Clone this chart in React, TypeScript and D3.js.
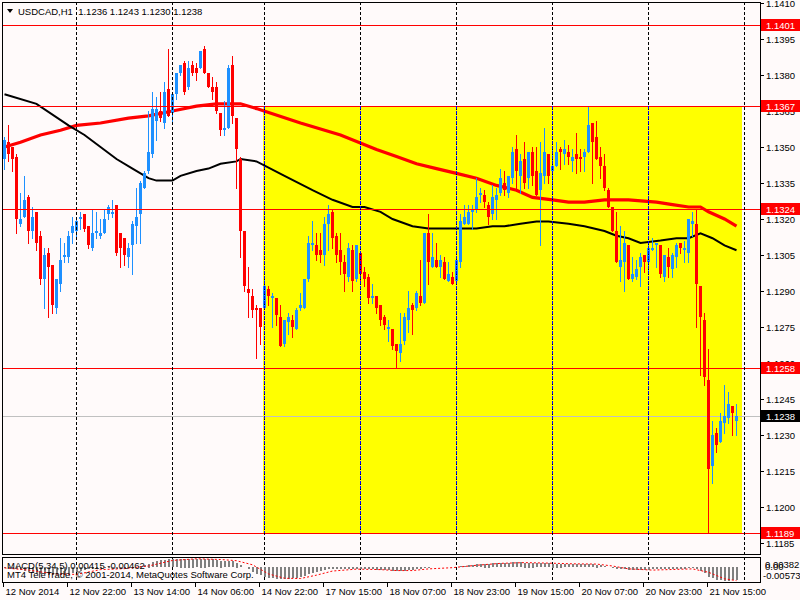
import React, { useRef, useEffect } from "react";
import * as d3 from "d3";

// --- H1 candles (bar 0 = 12 Nov 06:00)
const opens = [
  1.1345, 1.1352, 1.1350, 1.1346, 1.1318, 1.1321, 1.1329, 1.1315, 1.1323, 1.1313,
  1.1295, 1.1306, 1.1301, 1.1283, 1.1293, 1.1304, 1.1304, 1.1314, 1.1315, 1.1320,
  1.1322, 1.1317, 1.1308, 1.1314, 1.1313, 1.1314, 1.1322, 1.1322, 1.1326, 1.1314,
  1.1312, 1.1304, 1.1309, 1.1317, 1.1322, 1.1333, 1.1340, 1.1347, 1.1361, 1.1365,
  1.1360, 1.1374, 1.1364, 1.1372, 1.1381, 1.1385, 1.1375, 1.1384, 1.1383, 1.1383,
  1.1391, 1.1381, 1.1375, 1.1375, 1.1364, 1.1357, 1.1358, 1.1384, 1.1362, 1.1345,
  1.1315, 1.1291, 1.1288, 1.1283, 1.1283, 1.1283, 1.1291, 1.1287, 1.1287, 1.1279,
  1.1268, 1.1277, 1.1278, 1.1274, 1.1283, 1.1283, 1.1295, 1.1309, 1.1309, 1.1307,
  1.1305, 1.1318, 1.1323, 1.1313, 1.1307, 1.1302, 1.1296, 1.1307, 1.1295, 1.1306,
  1.1298, 1.1296, 1.1287, 1.1288, 1.1284, 1.1279, 1.1274, 1.1274, 1.1268, 1.1264,
  1.1269, 1.1278, 1.1284, 1.1283, 1.1288, 1.1285, 1.1314, 1.1300, 1.1303, 1.1300,
  1.1302, 1.1294, 1.1296, 1.1294, 1.1302, 1.1318, 1.1318, 1.1323, 1.1324, 1.1330,
  1.1330, 1.1326, 1.1322, 1.1328, 1.1331, 1.1335, 1.1331, 1.1337, 1.1349, 1.1338,
  1.1345, 1.1337, 1.1348, 1.1340, 1.1332, 1.1338, 1.1347, 1.1340, 1.1342, 1.1349,
  1.1347, 1.1348, 1.1344, 1.1347, 1.1346, 1.1346, 1.1348, 1.1360, 1.1354, 1.1346,
  1.1342, 1.1332, 1.1325, 1.1315, 1.1300, 1.1302, 1.1309, 1.1295, 1.1296, 1.1300,
  1.1305, 1.1302, 1.1307, 1.1309, 1.1309, 1.1296, 1.1304, 1.1299, 1.1304, 1.1310,
  1.1307, 1.1306, 1.1318, 1.1318, 1.1292, 1.1278, 1.1253, 1.1217, 1.1231, 1.1227,
  1.1235, 1.1237, 1.1242, 1.1236,
];
const highs = [
  1.1354, 1.1359, 1.1350, 1.1347, 1.1331, 1.1338, 1.1330, 1.1325, 1.1323, 1.1315,
  1.1308, 1.1308, 1.1301, 1.1295, 1.1312, 1.1310, 1.1315, 1.1321, 1.1321, 1.1323,
  1.1322, 1.1317, 1.1324, 1.1323, 1.1320, 1.1324, 1.1326, 1.1328, 1.1326, 1.1314,
  1.1312, 1.1310, 1.1319, 1.1333, 1.1336, 1.1340, 1.1365, 1.1373, 1.1371, 1.1373,
  1.1377, 1.1391, 1.1373, 1.1381, 1.1384, 1.1386, 1.1386, 1.1386, 1.1385, 1.1390,
  1.1392, 1.1381, 1.1379, 1.1377, 1.1364, 1.1369, 1.1384, 1.1388, 1.1362, 1.1346,
  1.1315, 1.1300, 1.1291, 1.1284, 1.1283, 1.1295, 1.1292, 1.1289, 1.1287, 1.1284,
  1.1278, 1.1281, 1.1280, 1.1283, 1.1289, 1.1295, 1.1313, 1.1319, 1.1314, 1.1314,
  1.1321, 1.1326, 1.1324, 1.1314, 1.1314, 1.1305, 1.1310, 1.1309, 1.1309, 1.1306,
  1.1300, 1.1297, 1.1293, 1.1288, 1.1284, 1.1280, 1.1278, 1.1274, 1.1268, 1.1281,
  1.1281, 1.1290, 1.1285, 1.1290, 1.1303, 1.1314, 1.1322, 1.1314, 1.1310, 1.1305,
  1.1304, 1.1302, 1.1298, 1.1303, 1.1322, 1.1326, 1.1326, 1.1326, 1.1337, 1.1333,
  1.1332, 1.1327, 1.1334, 1.1333, 1.1341, 1.1340, 1.1338, 1.1350, 1.1355, 1.1347,
  1.1352, 1.1348, 1.1350, 1.1350, 1.1352, 1.1358, 1.1347, 1.1350, 1.1352, 1.1350,
  1.1353, 1.1351, 1.1349, 1.1356, 1.1349, 1.1349, 1.1367, 1.1360, 1.1361, 1.1350,
  1.1347, 1.1333, 1.1325, 1.1323, 1.1317, 1.1315, 1.1309, 1.1304, 1.1303, 1.1306,
  1.1305, 1.1309, 1.1312, 1.1310, 1.1309, 1.1305, 1.1308, 1.1306, 1.1310, 1.1310,
  1.1311, 1.1320, 1.1323, 1.1324, 1.1292, 1.1281, 1.1266, 1.1236, 1.1233, 1.1239,
  1.1251, 1.1248, 1.1242, 1.1243,
];
const lows = [
  1.1341, 1.1344, 1.1340, 1.1314, 1.1317, 1.1321, 1.1310, 1.1312, 1.1307, 1.1293,
  1.1283, 1.1279, 1.1281, 1.1281, 1.1290, 1.1302, 1.1302, 1.1310, 1.1312, 1.1316,
  1.1315, 1.1308, 1.1307, 1.1312, 1.1312, 1.1314, 1.1320, 1.1321, 1.1305, 1.1300,
  1.1301, 1.1300, 1.1297, 1.1310, 1.1310, 1.1333, 1.1339, 1.1346, 1.1353, 1.1361,
  1.1358, 1.1363, 1.1361, 1.1370, 1.1380, 1.1372, 1.1374, 1.1380, 1.1378, 1.1383,
  1.1381, 1.1375, 1.1370, 1.1364, 1.1355, 1.1355, 1.1358, 1.1360, 1.1333, 1.1304,
  1.1290, 1.1279, 1.1279, 1.1262, 1.1268, 1.1283, 1.1284, 1.1275, 1.1276, 1.1267,
  1.1267, 1.1272, 1.1271, 1.1274, 1.1282, 1.1283, 1.1294, 1.1307, 1.1303, 1.1302,
  1.1301, 1.1307, 1.1308, 1.1302, 1.1297, 1.1290, 1.1294, 1.1290, 1.1294, 1.1293,
  1.1292, 1.1285, 1.1285, 1.1281, 1.1276, 1.1274, 1.1269, 1.1266, 1.1258, 1.1261,
  1.1268, 1.1273, 1.1272, 1.1282, 1.1284, 1.1285, 1.1293, 1.1300, 1.1300, 1.1296,
  1.1295, 1.1294, 1.1293, 1.1294, 1.1300, 1.1318, 1.1318, 1.1316, 1.1323, 1.1327,
  1.1325, 1.1318, 1.1320, 1.1320, 1.1330, 1.1330, 1.1329, 1.1335, 1.1333, 1.1331,
  1.1333, 1.1333, 1.1334, 1.1330, 1.1309, 1.1335, 1.1335, 1.1334, 1.1342, 1.1341,
  1.1343, 1.1343, 1.1340, 1.1339, 1.1340, 1.1340, 1.1348, 1.1335, 1.1345, 1.1337,
  1.1332, 1.1325, 1.1315, 1.1302, 1.1294, 1.1290, 1.1295, 1.1294, 1.1295, 1.1292,
  1.1298, 1.1297, 1.1307, 1.1300, 1.1296, 1.1294, 1.1296, 1.1296, 1.1300, 1.1306,
  1.1302, 1.1302, 1.1313, 1.1275, 1.1255, 1.1251, 1.1189, 1.1210, 1.1223, 1.1227,
  1.1231, 1.1235, 1.1230, 1.1230,
];
const closes = [
  1.1353, 1.1347, 1.1345, 1.1320, 1.1320, 1.1328, 1.1315, 1.1321, 1.1310, 1.1295,
  1.1305, 1.1300, 1.1284, 1.1295, 1.1303, 1.1305, 1.1313, 1.1317, 1.1319, 1.1321,
  1.1316, 1.1309, 1.1314, 1.1315, 1.1314, 1.1320, 1.1325, 1.1323, 1.1306, 1.1308,
  1.1305, 1.1308, 1.1318, 1.1321, 1.1335, 1.1339, 1.1348, 1.1366, 1.1366, 1.1362,
  1.1373, 1.1363, 1.1372, 1.1381, 1.1384, 1.1373, 1.1383, 1.1381, 1.1381, 1.1390,
  1.1381, 1.1375, 1.1373, 1.1365, 1.1357, 1.1358, 1.1383, 1.1363, 1.1349, 1.1315,
  1.1292, 1.1289, 1.1282, 1.1282, 1.1275, 1.1292, 1.1288, 1.1288, 1.1280, 1.1267,
  1.1278, 1.1279, 1.1275, 1.1282, 1.1284, 1.1295, 1.1310, 1.1310, 1.1305, 1.1305,
  1.1318, 1.1322, 1.1312, 1.1305, 1.1302, 1.1297, 1.1308, 1.1294, 1.1309, 1.1297,
  1.1295, 1.1287, 1.1288, 1.1283, 1.1278, 1.1276, 1.1275, 1.1267, 1.1265, 1.1268,
  1.1279, 1.1283, 1.1282, 1.1289, 1.1285, 1.1314, 1.1302, 1.1304, 1.1300, 1.1303,
  1.1295, 1.1297, 1.1293, 1.1303, 1.1319, 1.1321, 1.1323, 1.1324, 1.1329, 1.1331,
  1.1327, 1.1321, 1.1329, 1.1330, 1.1337, 1.1332, 1.1338, 1.1348, 1.1340, 1.1344,
  1.1335, 1.1348, 1.1338, 1.1330, 1.1339, 1.1348, 1.1338, 1.1342, 1.1348, 1.1348,
  1.1349, 1.1346, 1.1346, 1.1345, 1.1345, 1.1348, 1.1359, 1.1352, 1.1345, 1.1342,
  1.1333, 1.1325, 1.1315, 1.1302, 1.1303, 1.1310, 1.1295, 1.1297, 1.1299, 1.1304,
  1.1302, 1.1308, 1.1308, 1.1310, 1.1297, 1.1305, 1.1300, 1.1305, 1.1309, 1.1308,
  1.1308, 1.1320, 1.1319, 1.1293, 1.1279, 1.1254, 1.1216, 1.1230, 1.1226, 1.1236,
  1.1238, 1.1243, 1.1239, 1.1238,
];

// moving averages (bar index, price)
const slowMaBars = [0, 4, 9, 14, 18, 24, 31, 36, 42, 48, 53, 59, 63, 74, 84, 93, 98, 103, 108, 113, 118, 123, 128, 132, 137, 141, 145, 150, 156, 163, 167, 171, 174, 176, 180, 183];
const slowMaValues = [1.1350, 1.1352, 1.1355, 1.1357, 1.1359, 1.1360, 1.1362, 1.1363, 1.1365, 1.1367, 1.1368, 1.1368, 1.1366, 1.1360, 1.1355, 1.1349, 1.1346, 1.1343, 1.1341, 1.1339, 1.1337, 1.1334, 1.1332, 1.1329, 1.1328, 1.1327, 1.1327, 1.1328, 1.1328, 1.1327, 1.1326, 1.1325, 1.1325, 1.1323, 1.1320, 1.1317];
const fastMaBars = [0, 8, 16, 20, 24, 28, 32, 36, 38, 42, 44, 48, 51, 54, 58, 59, 63, 70, 77, 82, 87, 90, 94, 97, 102, 106, 113, 118, 122, 125, 129, 133, 136, 141, 145, 150, 153, 156, 159, 164, 168, 171, 174, 177, 180, 183];
const fastMaValues = [1.1372, 1.1368, 1.1359, 1.1355, 1.1350, 1.1345, 1.1341, 1.1337, 1.1336, 1.1336, 1.1338, 1.1340, 1.1341, 1.1343, 1.1344, 1.1345, 1.1344, 1.1338, 1.1332, 1.1328, 1.1325, 1.1325, 1.1323, 1.1320, 1.1317, 1.1316, 1.1316, 1.1316, 1.1317, 1.1317, 1.1318, 1.1319, 1.1319, 1.1318, 1.1317, 1.1315, 1.1313, 1.1312, 1.1310, 1.1311, 1.1312, 1.1312, 1.1314, 1.1312, 1.1309, 1.1307];

// MACD(5,34,5) histogram per bar and its signal line
const macdHist = [
  -0.0004, -0.0006, -0.0008, -0.0010, -0.0014, -0.0018, -0.0022, -0.0025, -0.0027, -0.0029,
  -0.0031, -0.0032, -0.0033, -0.0034, -0.0034, -0.0032, -0.0029, -0.0025, -0.0021, -0.0017,
  -0.0013, -0.0010, -0.0008, -0.0006, -0.0005, -0.0005, -0.0005, -0.0006, -0.0006, -0.0007,
  -0.0007, -0.0006, -0.0003, 0.0001, 0.0006, 0.0010, 0.0015, 0.0022, 0.0026, 0.0028,
  0.0031, 0.0032, 0.0033, 0.0035, 0.0036, 0.0036, 0.0036, 0.0036, 0.0035, 0.0036,
  0.0036, 0.0034, 0.0032, 0.0030, 0.0027, 0.0024, 0.0026, 0.0024, 0.0019, 0.0010,
  0.0000, -0.0010, -0.0020, -0.0028, -0.0035, -0.0040, -0.0044, -0.0047, -0.0049, -0.0050,
  -0.0049, -0.0048, -0.0046, -0.0044, -0.0041, -0.0037, -0.0030, -0.0025, -0.0021, -0.0018,
  -0.0013, -0.0009, -0.0008, -0.0008, -0.0008, -0.0009, -0.0008, -0.0009, -0.0008, -0.0008,
  -0.0008, -0.0009, -0.0010, -0.0011, -0.0012, -0.0013, -0.0014, -0.0015, -0.0017, -0.0017,
  -0.0015, -0.0013, -0.0011, -0.0009, -0.0008, -0.0004, -0.0003, -0.0002, -0.0002, -0.0002,
  -0.0002, -0.0002, -0.0002, -0.0001, 0.0003, 0.0006, 0.0008, 0.0010, 0.0012, 0.0014,
  0.0015, 0.0015, 0.0016, 0.0017, 0.0018, 0.0018, 0.0018, 0.0020, 0.0020, 0.0020,
  0.0019, 0.0019, 0.0019, 0.0017, 0.0016, 0.0017, 0.0016, 0.0015, 0.0015, 0.0015,
  0.0014, 0.0014, 0.0013, 0.0013, 0.0012, 0.0012, 0.0014, 0.0013, 0.0011, 0.0008,
  0.0005, 0.0001, -0.0003, -0.0008, -0.0010, -0.0010, -0.0012, -0.0013, -0.0013, -0.0012,
  -0.0012, -0.0011, -0.0010, -0.0009, -0.0010, -0.0010, -0.0010, -0.0009, -0.0008, -0.0008,
  -0.0008, -0.0006, -0.0005, -0.0009, -0.0016, -0.0026, -0.0040, -0.0047, -0.0052, -0.0055,
  -0.0057, -0.0057, -0.0056, -0.0055,
];
const signalBars = [0, 6, 12, 18, 24, 30, 36, 42, 48, 54, 58, 62, 66, 70, 74, 78, 82, 88, 94, 98, 102, 106, 112, 118, 124, 130, 136, 142, 148, 152, 156, 162, 168, 172, 176, 180, 183];
const signalValues = [-0.0003, -0.0012, -0.0027, -0.0030, -0.0010, -0.0006, 0.0005, 0.0028, 0.0035, 0.0032, 0.0027, 0.0010, -0.0028, -0.0046, -0.0047, -0.0033, -0.0016, -0.0008, -0.0010, -0.0014, -0.0014, -0.0007, -0.0002, 0.0008, 0.0016, 0.0019, 0.0017, 0.0014, 0.0013, 0.0005, -0.0007, -0.0012, -0.0009, -0.0007, -0.0021, -0.0048, -0.0056];
const macdScale = [-0.00573, 0.00382];

// axes and objects
const timeTickBars = [0, 16, 32, 48, 64, 80, 96, 112, 128, 144, 160, 176];
const timeTickLabels = [
  "12 Nov 2014", "12 Nov 22:00", "13 Nov 14:00", "14 Nov 06:00", "14 Nov 22:00", "17 Nov 15:00",
  "18 Nov 07:00", "18 Nov 23:00", "19 Nov 15:00", "20 Nov 07:00", "20 Nov 23:00", "21 Nov 15:00",
];
const dayBreakBars = [18, 42, 65, 89, 113, 137, 161, 185];
const priceTicks = [1.1185, 1.12, 1.1215, 1.123, 1.1245, 1.126, 1.1275, 1.129, 1.1305, 1.132, 1.1335, 1.135, 1.1365, 1.138, 1.1395, 1.141];
const levelLines = [1.1401, 1.1367, 1.1324, 1.1258, 1.1189];
const bidPrice = 1.1238;
const zoneBars = [64.8, 184.5];
const zonePrices = [1.1367, 1.1189];
const titleText = "USDCAD,H1  1.1236 1.1243 1.1230 1.1238";

const FONT = "'Liberation Sans', Arial, sans-serif";

const App: React.FC = () => {
  const svgRef = useRef<SVGSVGElement>(null);

  useEffect(() => {
    if (!svgRef.current) return;
    const W = 800, H = 600;
    const left = 2, axisX = 760;
    const mainTop = 2, mainBottom = 554;
    const macdTop = 557, macdBottom = 582;

    const x = d3.scaleLinear().domain([0, 183]).range([4, 736]);
    const y = d3.scaleLinear().domain([1.1185, 1.141]).range([543, 3]);
    const ym = d3.scaleLinear().domain(macdScale).range([581, 558]);
    const py = (p: number) => Math.round(y(p)) + 0.5;

    const svg = d3.select(svgRef.current);
    svg.selectAll("*").remove();
    svg.attr("width", W).attr("height", H).attr("viewBox", `0 0 ${W} ${H}`);

    svg.append("rect").attr("width", W).attr("height", H).attr("fill", "#fffafa");

    const defs = svg.append("defs");
    defs.append("clipPath").attr("id", "mainClip").append("rect")
      .attr("x", left).attr("y", mainTop).attr("width", axisX - left).attr("height", mainBottom - mainTop);
    defs.append("clipPath").attr("id", "macdClip").append("rect")
      .attr("x", left).attr("y", macdTop).attr("width", axisX - left).attr("height", macdBottom - macdTop);

    const main = svg.append("g").attr("clip-path", "url(#mainClip)");

    // yellow zone (background object)
    const zx0 = Math.round(x(zoneBars[0])), zx1 = Math.round(x(zoneBars[1]));
    const zy0 = Math.round(y(zonePrices[0])), zy1 = Math.round(y(zonePrices[1]));
    main.append("rect")
      .attr("x", zx0).attr("y", zy0).attr("width", zx1 - zx0).attr("height", zy1 - zy0)
      .attr("fill", "#ffff00");

    // day separators
    const grid = svg.append("g").attr("shape-rendering", "crispEdges");
    dayBreakBars.forEach((b) => {
      const gx = Math.round(x(b)) + 0.5;
      if (gx >= axisX) return;
      grid.append("line")
        .attr("x1", gx).attr("x2", gx).attr("y1", mainTop).attr("y2", macdBottom)
        .attr("stroke", "#000").attr("stroke-dasharray", "3,2");
      if (gx > zx0 && gx < zx1) {
        grid.append("line")
          .attr("x1", gx).attr("x2", gx).attr("y1", zy0).attr("y2", zy1)
          .attr("stroke", "#0000ff").attr("stroke-dasharray", "3,2");
      }
    });

    // bid line
    main.append("line")
      .attr("x1", left).attr("x2", axisX).attr("y1", py(bidPrice)).attr("y2", py(bidPrice))
      .attr("stroke", "#c0c0c0").attr("shape-rendering", "crispEdges");

    // moving averages
    const maLine = d3.line<[number, number]>().x((d) => x(d[0]) + 0.5).y((d) => y(d[1]));
    main.append("path")
      .attr("d", maLine(slowMaBars.map((b, i) => [b, slowMaValues[i]] as [number, number])))
      .attr("fill", "none").attr("stroke", "#ff0000").attr("stroke-width", 3.2);
    main.append("path")
      .attr("d", maLine(fastMaBars.map((b, i) => [b, fastMaValues[i]] as [number, number])))
      .attr("fill", "none").attr("stroke", "#000").attr("stroke-width", 2);

    // candles
    const candles = main.append("g").attr("shape-rendering", "crispEdges");
    opens.forEach((o, i) => {
      const c = closes[i];
      const col = c >= o ? "#1e90ff" : "#ff0000";
      const cx = Math.round(x(i));
      const yh = Math.round(y(highs[i])), yl = Math.round(y(lows[i]));
      const yo = Math.round(y(o)), yc = Math.round(y(c));
      candles.append("line")
        .attr("x1", cx + 0.5).attr("x2", cx + 0.5).attr("y1", yh).attr("y2", yl + 1)
        .attr("stroke", col);
      candles.append("rect")
        .attr("x", cx - 1).attr("y", Math.min(yo, yc))
        .attr("width", 3).attr("height", Math.max(1, Math.abs(yo - yc)))
        .attr("fill", col);
    });

    // horizontal levels
    levelLines.forEach((p) => {
      main.append("line")
        .attr("x1", left).attr("x2", axisX).attr("y1", py(p)).attr("y2", py(p))
        .attr("stroke", "#ff0000").attr("shape-rendering", "crispEdges");
    });

    // MACD pane
    const macd = svg.append("g").attr("clip-path", "url(#macdClip)");
    const z0 = ym(0);
    macd.append("g").attr("shape-rendering", "crispEdges")
      .selectAll("rect").data(macdHist).join("rect")
      .attr("x", (_, i) => Math.round(x(i)) - 0.5)
      .attr("width", 2)
      .attr("y", (d) => Math.round(Math.min(ym(d), z0)))
      .attr("height", (d) => Math.max(0, Math.round(Math.abs(ym(d) - z0))))
      .attr("fill", "#808080");
    macd.append("path")
      .attr("d", d3.line<number>().x((b) => x(b) + 0.5).y((_, i) => ym(signalValues[i]))(signalBars))
      .attr("fill", "none").attr("stroke", "#ff0000").attr("stroke-dasharray", "2,2");

    // frames
    const frames = svg.append("g").attr("fill", "none").attr("stroke", "#000").attr("shape-rendering", "crispEdges");
    frames.append("rect").attr("x", left + 0.5).attr("y", mainTop + 0.5)
      .attr("width", axisX - left).attr("height", mainBottom - mainTop);
    frames.append("rect").attr("x", left + 0.5).attr("y", macdTop + 0.5)
      .attr("width", axisX - left).attr("height", macdBottom - macdTop);

    // price axis
    const axis = svg.append("g").style("font-family", FONT).style("font-size", "9.5px");
    priceTicks.forEach((p) => {
      axis.append("line")
        .attr("x1", axisX).attr("x2", axisX + 4).attr("y1", py(p)).attr("y2", py(p))
        .attr("stroke", "#000").attr("shape-rendering", "crispEdges");
      axis.append("text").attr("x", 766).attr("y", y(p) + 3.5).attr("fill", "#000").text(p.toFixed(4));
    });
    const tag = (p: number, fill: string) => {
      const ty = Math.round(y(p));
      axis.append("rect").attr("x", axisX + 1).attr("y", ty - 6).attr("width", W - axisX - 1).attr("height", 12)
        .attr("fill", fill);
      axis.append("text").attr("x", 766).attr("y", ty + 3.5).attr("fill", "#fff").text(p.toFixed(4));
    };
    levelLines.forEach((p) => tag(p, "#ff0000"));
    tag(bidPrice, "#000");

    // MACD scale labels
    axis.append("text").attr("x", 765).attr("y", 568).text(macdScale[1].toFixed(5));
    axis.append("text").attr("x", 765).attr("y", 570).text("0.00");
    axis.append("text").attr("x", 763).attr("y", 579).text(macdScale[0].toFixed(5));

    // time axis
    timeTickBars.forEach((b, i) => {
      const tx = Math.round(x(b)) - 0.5;
      axis.append("line")
        .attr("x1", tx).attr("x2", tx).attr("y1", macdBottom).attr("y2", macdBottom + 5)
        .attr("stroke", "#000").attr("shape-rendering", "crispEdges");
      axis.append("text").attr("x", tx + 2).attr("y", 595).attr("fill", "#000").text(timeTickLabels[i]);
    });

    // captions
    svg.append("path").attr("d", "M7,9 L13,9 L10,13 Z").attr("fill", "#000");
    svg.append("text").attr("x", 18).attr("y", 15)
      .style("font-family", FONT).style("font-size", "9.5px").style("white-space", "pre")
      .attr("fill", "#000").text(titleText);
    svg.append("text").attr("x", 7).attr("y", 569)
      .style("font-family", FONT).style("font-size", "9.5px").attr("fill", "#000")
      .text("MACD(5,34,5) 0.00415 -0.00462");
    svg.append("text").attr("x", 7).attr("y", 578)
      .style("font-family", FONT).style("font-size", "9.5px").attr("fill", "#000")
      .text("MT4 TeleTrade, © 2001-2014, MetaQuotes Software Corp.");
  }, []);

  return (
    <svg
      ref={svgRef}
      style={{ position: "fixed", left: 0, top: 0, display: "block" }}
    />
  );
};

export default App;
